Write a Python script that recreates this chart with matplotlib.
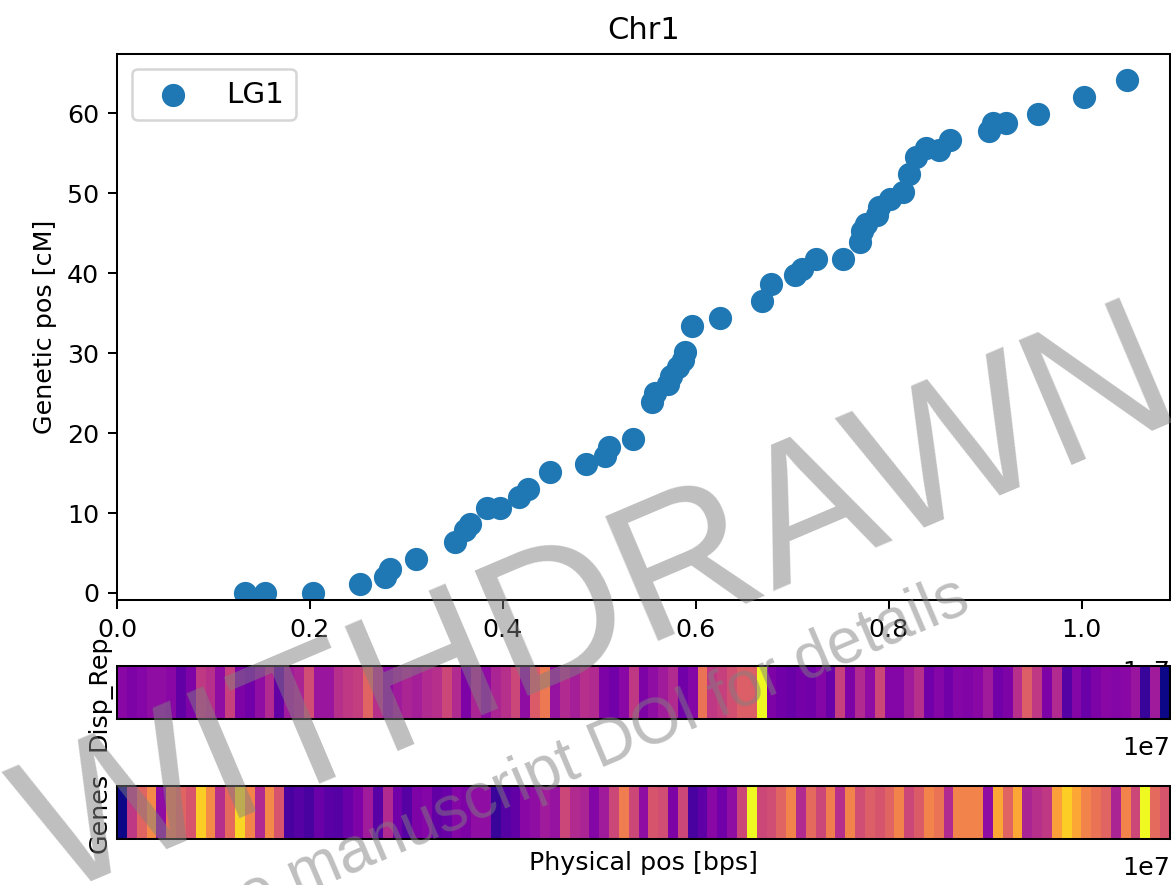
import numpy as np
import matplotlib
matplotlib.use('Agg')
import matplotlib.pyplot as plt
import matplotlib.transforms as mtransforms
from matplotlib.ticker import ScalarFormatter

chrom_name = 'Chr1'
lg_name = 'LG1'
chrom_len = 10_912_000

# marker positions: physical (bp) and genetic (cM)
phys_pos = np.array([0.133, 0.153, 0.203, 0.252, 0.278, 0.283, 0.310, 0.350, 0.361, 0.366,
                     0.383, 0.397, 0.417, 0.426, 0.449, 0.486, 0.506, 0.510, 0.535, 0.555,
                     0.558, 0.571, 0.574, 0.581, 0.587, 0.589, 0.596, 0.625, 0.669, 0.678,
                     0.703, 0.710, 0.724, 0.752, 0.770, 0.772, 0.776, 0.788, 0.790, 0.801,
                     0.815, 0.821, 0.828, 0.838, 0.852, 0.863, 0.904, 0.908, 0.921, 0.955,
                     1.002, 1.047]) * 1e7
gen_pos = np.array([0.0, 0.0, 0.0, 1.1, 2.0, 3.0, 4.2, 6.4, 7.9, 8.6,
                    10.6, 10.6, 12.0, 13.0, 15.1, 16.1, 17.1, 18.2, 19.2, 23.9,
                    25.0, 26.1, 27.1, 28.2, 29.1, 30.1, 33.4, 34.4, 36.5, 38.6,
                    39.8, 40.5, 41.7, 41.7, 43.9, 45.2, 46.1, 47.3, 48.3, 49.2,
                    50.1, 52.4, 54.5, 55.6, 55.4, 56.6, 57.7, 58.7, 58.8, 59.9,
                    62.0, 64.1])

# binned densities along the chromosome (relative)
disp_rep = [0.28, 0.25, 0.27, 0.30, 0.30, 0.28, 0.18, 0.25, 0.45, 0.42,
            0.30, 0.48, 0.25, 0.22, 0.30, 0.40, 0.18, 0.35, 0.38, 0.52,
            0.33, 0.33, 0.42, 0.45, 0.47, 0.60, 0.42, 0.30, 0.35, 0.38,
            0.36, 0.40, 0.42, 0.50, 0.40, 0.25, 0.38, 0.30, 0.38, 0.42,
            0.50, 0.30, 0.57, 0.67, 0.32, 0.40, 0.36, 0.42, 0.40, 0.25,
            0.22, 0.28, 0.45, 0.25, 0.30, 0.35, 0.40, 0.22, 0.27, 0.65,
            0.45, 0.48, 0.53, 0.58, 0.58, 1.00, 0.25, 0.22, 0.20, 0.23,
            0.22, 0.27, 0.20, 0.48, 0.25, 0.40, 0.30, 0.50, 0.27, 0.27,
            0.35, 0.42, 0.22, 0.27, 0.22, 0.27, 0.26, 0.28, 0.35, 0.22,
            0.25, 0.42, 0.58, 0.45, 0.25, 0.40, 0.15, 0.27, 0.20, 0.25,
            0.28, 0.27, 0.28, 0.33, 0.08, 0.35, 0.00]
genes = [0.00, 0.45, 0.60, 0.72, 0.30, 0.65, 0.60, 0.55, 0.90, 0.72,
         0.42, 0.62, 0.92, 0.70, 0.40, 0.72, 0.55, 0.12, 0.15, 0.12,
         0.20, 0.16, 0.15, 0.20, 0.25, 0.35, 0.16, 0.40, 0.22, 0.15,
         0.25, 0.27, 0.18, 0.20, 0.27, 0.25, 0.30, 0.30, 0.08, 0.15,
         0.18, 0.28, 0.30, 0.35, 0.32, 0.50, 0.40, 0.38, 0.27, 0.35,
         0.50, 0.68, 0.50, 0.30, 0.55, 0.52, 0.25, 0.50, 0.12, 0.17,
         0.28, 0.22, 0.30, 0.50, 1.00, 0.50, 0.52, 0.60, 0.70, 0.40,
         0.62, 0.50, 0.68, 0.42, 0.70, 0.52, 0.58, 0.55, 0.60, 0.70,
         0.50, 0.57, 0.70, 0.65, 0.40, 0.70, 0.70, 0.70, 0.30, 0.80,
         0.60, 0.80, 0.38, 0.42, 0.45, 0.78, 0.90, 0.80, 0.70, 0.65,
         0.60, 0.38, 0.70, 0.50, 1.00, 0.62, 0.55]


class OffsetOnlyFormatter(ScalarFormatter):
    # blank tick labels, but keep the "1e7" offset text
    def __call__(self, x, pos=None):
        return ''


def main():
    dpi = 183.1
    fig = plt.figure(figsize=(6.4, 4.8345), dpi=dpi)

    ax = fig.add_axes([0.0998, 0.322, 0.8985, 0.617])
    ax.scatter(phys_pos, gen_pos, s=66, color='tab:blue', label=lg_name)
    ax.set_xlim(0, chrom_len)
    ax.set_ylim(-0.9, 67.4)
    ax.set_ylabel('Genetic pos [cM]')
    ax.set_title(chrom_name)
    ax.legend(loc='upper left', fontsize=11.6)
    # push the offset text down so the track below hides most of it
    ot = ax.xaxis.get_offset_text()
    ot.set_transform(ot.get_transform() +
                     mtransforms.ScaledTranslation(0, -10 / dpi, fig.dpi_scale_trans))

    tracks = [('Disp_Rep', disp_rep, 0.1876), ('Genes', genes, 0.052)]
    for i, (name, vals, bottom) in enumerate(tracks):
        tax = fig.add_axes([0.0998, bottom, 0.8985, 0.0599])
        tax.imshow(np.array(vals)[np.newaxis, :], cmap='plasma', aspect='auto',
                   extent=[0, chrom_len, 0, 1], interpolation='nearest')
        tax.set_xlim(0, chrom_len)
        tax.set_yticks([])
        tax.xaxis.set_major_formatter(OffsetOnlyFormatter())
        tax.tick_params(axis='x', length=0)
        tax.set_ylabel(name, labelpad=2)
        if i == len(tracks) - 1:
            tax.set_xlabel('Physical pos [bps]', labelpad=1)

    # retraction watermark
    fig.text(0.512, 0.312, 'WITHDRAWN', fontsize=77, rotation=23, color='gray',
             alpha=0.5, ha='center', va='center', family='Liberation Sans', zorder=10)
    fig.text(0.485, 0.137, 'See manuscript DOI for details', fontsize=25, rotation=23,
             color='gray', alpha=0.5, ha='center', va='center',
             family='Liberation Sans', zorder=10)

    fig.savefig('out.png', dpi=dpi)


if __name__ == '__main__':
    main()
